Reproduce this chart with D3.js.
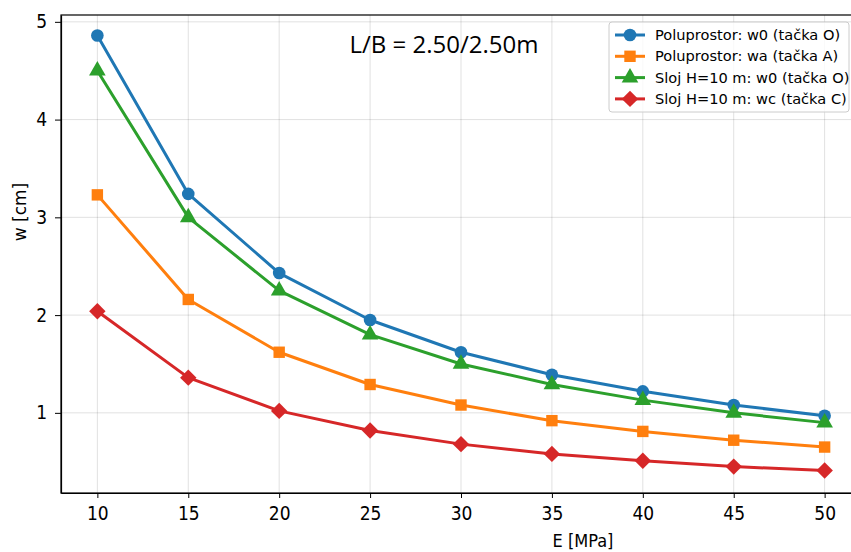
<!DOCTYPE html>
<html>
<head>
<meta charset="utf-8">
<script src="https://cdn.jsdelivr.net/npm/d3@7"></script>
<style>
  body { margin: 0; background: #fff; }
  text { font-family: "DejaVu Sans", sans-serif; }
  .tick text { font-family: "DejaVu Sans Condensed", "DejaVu Sans", sans-serif; font-stretch: condensed; font-size: 19px; fill: #000; }
  .grid line { stroke: #000; stroke-opacity: 0.12; }
</style>
</head>
<body>
<div id="chart"></div>
<script>
var modulE = [10, 15, 20, 25, 30, 35, 40, 45, 50]
var poluW0 = [4.86, 3.24, 2.43, 1.95, 1.62, 1.39, 1.22, 1.08, 0.97]
var poluWa = [3.23, 2.16, 1.62, 1.29, 1.08, 0.92, 0.81, 0.72, 0.65]
var slojW0 = [4.50, 3.00, 2.25, 1.80, 1.50, 1.29, 1.13, 1.00, 0.90]
var slojWc = [2.04, 1.36, 1.02, 0.82, 0.68, 0.58, 0.51, 0.45, 0.41]
var seriesNames = ['Poluprostor: w0 (tačka O)', 'Poluprostor: wa (tačka A)',
                   'Sloj H=10 m: w0 (tačka O)', 'Sloj H=10 m: wc (tačka C)']
var xTicks = [10, 15, 20, 25, 30, 35, 40, 45, 50]
var yTicks = [1, 2, 3, 4, 5]
var titleText = 'L/B = 2.50/2.50m'

var colors = ['#1f77b4', '#ff7f0e', '#2ca02c', '#d62728']
var symbols = [d3.symbolCircle, d3.symbolSquare, d3.symbolTriangle, d3.symbolSquare]
var symbolSizes = [125, 130, 120, 135]
var symbolRot = [0, 0, 0, 45]

var fullWidth = 851, fullHeight = 552
var margin = {top: 15, left: 61, bottom: 59}
var width = 861 - margin.left
var height = fullHeight - margin.top - margin.bottom

var x = d3.scaleLinear().domain([8, 52]).range([0, width])
var y = d3.scaleLinear().domain([0.18, 5.07]).range([height, 0])

var svg = d3.select('#chart').append('svg')
    .attr('width', fullWidth)
    .attr('height', fullHeight)
  .append('g')
    .attr('transform', 'translate(' + margin.left + ',' + margin.top + ')')

// grid
svg.append('g').attr('class', 'grid')
  .selectAll('line').data(xTicks).enter().append('line')
    .attr('x1', function(d) { return x(d) }).attr('x2', function(d) { return x(d) })
    .attr('y1', 0).attr('y2', height)
svg.append('g').attr('class', 'grid')
  .selectAll('line').data(yTicks).enter().append('line')
    .attr('y1', function(d) { return y(d) }).attr('y2', function(d) { return y(d) })
    .attr('x1', 0).attr('x2', width)

// axes
svg.append('g')
  .attr('transform', 'translate(0,' + height + ')')
  .call(d3.axisBottom(x).tickValues(xTicks).tickFormat(d3.format('d'))
    .tickSize(5).tickSizeOuter(0).tickPadding(9))
svg.append('g')
  .call(d3.axisLeft(y).tickValues(yTicks).tickFormat(d3.format('d'))
    .tickSize(6).tickSizeOuter(0).tickPadding(8))
svg.selectAll('.domain').attr('stroke', '#000').attr('stroke-width', 1.2)
svg.selectAll('.tick line').attr('stroke', '#000').attr('stroke-width', 1)

// frame
svg.append('rect')
  .attr('width', width).attr('height', height)
  .attr('fill', 'none').attr('stroke', '#000').attr('stroke-width', 1.2)

var allSeries = [poluW0, poluWa, slojW0, slojWc]
var line = d3.line()
  .x(function(d, i) { return x(modulE[i]) })
  .y(function(d) { return y(d) })

allSeries.forEach(function(s, k) {
  svg.append('path').datum(s)
    .attr('fill', 'none')
    .attr('stroke', colors[k])
    .attr('stroke-width', 3)
    .attr('stroke-linejoin', 'round')
    .attr('d', line)
  svg.selectAll('.pt' + k).data(s).enter().append('path')
    .attr('class', 'pt' + k)
    .attr('transform', function(d, i) {
      return 'translate(' + x(modulE[i]) + ',' + y(d) + ') rotate(' + symbolRot[k] + ')'
    })
    .attr('d', d3.symbol().type(symbols[k]).size(symbolSizes[k]))
    .attr('fill', colors[k])
})

// title inside plot
svg.append('text')
  .attr('x', 444 - margin.left).attr('y', 53 - margin.top)
  .attr('text-anchor', 'middle')
  .style('font-family', '"Open Sans", sans-serif')
  .style('font-size', '24px')
  .text(titleText)

// axis labels
svg.append('text')
  .attr('x', 583 - margin.left).attr('y', 547 - margin.top)
  .attr('text-anchor', 'middle')
  .style('font-family', '"DejaVu Sans Condensed", "DejaVu Sans", sans-serif')
  .style('font-stretch', 'condensed')
  .style('font-size', '18px')
  .text('E [MPa]')
svg.append('text')
  .attr('transform', 'translate(' + (26 - margin.left) + ',' + (212 - margin.top) + ') rotate(-90)')
  .attr('text-anchor', 'middle')
  .style('font-size', '17px')
  .text('w [cm]')

// legend
var legend = svg.append('g').attr('transform', 'translate(' + (609 - margin.left) + ',' + (22 - margin.top) + ')')
legend.append('rect')
  .attr('width', 240).attr('height', 90).attr('rx', 3)
  .attr('fill', '#fff').attr('fill-opacity', 0.8)
  .attr('stroke', '#ccc')
seriesNames.forEach(function(name, k) {
  var ly = 13 + k * 21.3
  legend.append('line')
    .attr('x1', 6).attr('x2', 36).attr('y1', ly).attr('y2', ly)
    .attr('stroke', colors[k]).attr('stroke-width', 3)
  legend.append('path')
    .attr('transform', 'translate(21,' + ly + ') rotate(' + symbolRot[k] + ')')
    .attr('d', d3.symbol().type(symbols[k]).size(symbolSizes[k]))
    .attr('fill', colors[k])
  legend.append('text')
    .attr('x', 46).attr('y', ly + 5)
    .style('font-size', '14.6px')
    .text(name)
})
</script>
</body>
</html>
